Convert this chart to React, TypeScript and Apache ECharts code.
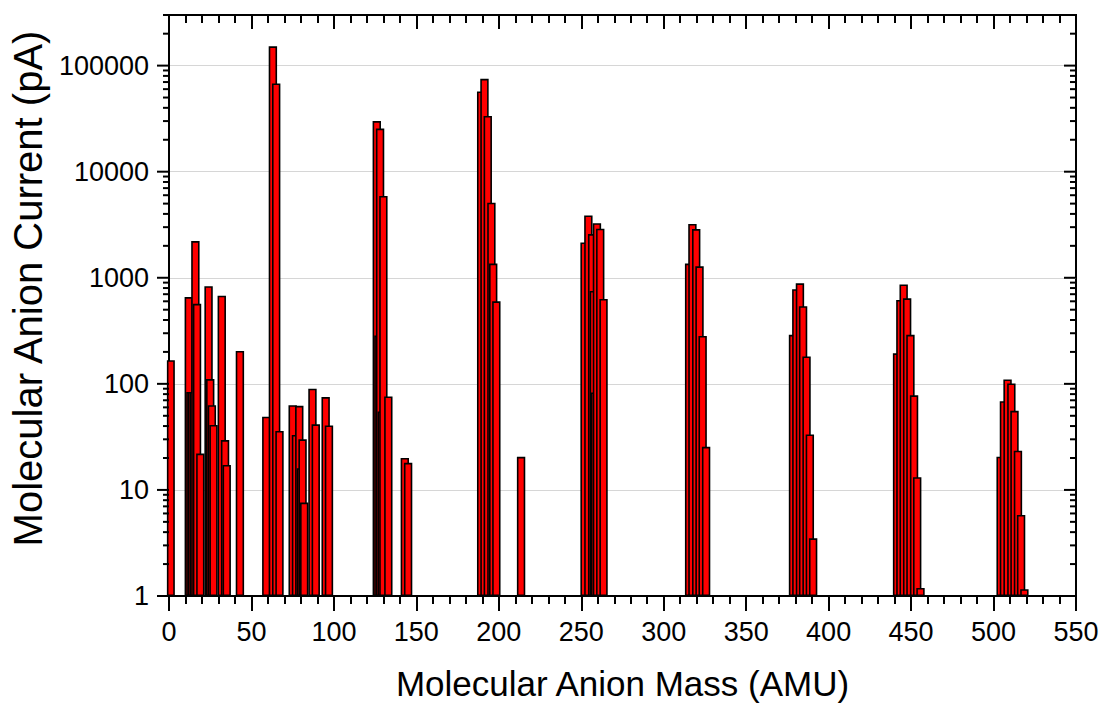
import React, { useEffect, useRef } from "react";
import * as echarts from "echarts";

// Molecular anion mass (AMU) of each bar, in drawing order
const masses = [
  1, 12, 13, 14, 15, 16, 17, 19, 24, 25, 26, 27, 32, 34, 35, 43,
  59, 63, 65, 67, 75, 77, 79, 80, 81, 82, 87, 89, 95, 97,
  126, 127, 128, 129, 130, 133, 143, 145,
  189.3, 191.3, 193.3, 195.5, 196.6, 198.5, 213.5,
  252, 254.3, 256.6, 257.6, 258.4, 259.5, 261.5, 263.5,
  315.4, 317.4, 319.7, 321.7, 323.6, 325.7,
  378.4, 380.4, 382.6, 384.5, 386.6, 388.6, 390.6,
  441.5, 443.5, 445.5, 447.6, 449.6, 451.8, 453.7, 455.7,
  504.3, 506.3, 508.5, 510.8, 512.7, 514.8, 516.7, 518.7,
];

// Molecular anion current (pA) of each bar
const currents = [
  167, 658, 84, 84, 84, 2220, 568, 22, 832, 111, 63, 41, 678, 29.5, 17.2, 204,
  49, 152000, 68000, 36, 63, 33, 62, 16, 30, 7.6, 90, 41.5, 75, 40.5,
  30000, 285, 25500, 55, 5900, 76, 20, 18,
  57000, 75000, 33500, 5100, 1360, 600, 20.5,
  2150, 3870, 2580, 750, 83, 3270, 2900, 632,
  1360, 3215, 2880, 1283, 283, 25.5,
  290, 780, 887, 539, 181, 33.3, 3.5,
  194, 618, 864, 640, 290, 78, 13.2, 1.19,
  20.6, 68.5, 110, 101, 55.7, 23.4, 5.8, 1.16,
];

const yDecades = [1, 10, 100, 1000, 10000, 100000];
const yMinorMultipliers = [2, 3, 4, 5, 6, 7, 8, 9];
const xTickStep = 50;

const FONT = "'Liberation Sans', Arial, Helvetica, sans-serif";

export default function App() {
  const ref = useRef<HTMLDivElement>(null);

  useEffect(() => {
    document.body.style.margin = "0";
    if (!ref.current) return;
    const chart = echarts.init(ref.current, null, { renderer: "svg" });

    const yTicks: number[][] = [];
    yDecades.forEach((d) => {
      yTicks.push([0, d, 1]);
      yMinorMultipliers.forEach((m) => {
        const v = d * m;
        if (v <= 300000) yTicks.push([0, v, 0]);
      });
    });

    const barData = masses.map((m, i) => [m, currents[i]]);

    const lineStyle = { color: "#000", width: 2 };

    chart.setOption({
      animation: false,
      backgroundColor: "#fff",
      grid: {
        left: 168,
        right: 28,
        top: 15,
        bottom: 117,
        show: true,
        borderColor: "#000",
        borderWidth: 2,
        backgroundColor: "transparent",
      },
      xAxis: [
        {
          type: "value",
          min: 0,
          max: 550,
          interval: xTickStep,
          position: "bottom",
          name: "Molecular Anion Mass (AMU)",
          nameLocation: "middle",
          nameGap: 70,
          nameTextStyle: { fontSize: 35, color: "#000", fontFamily: FONT },
          axisLine: { show: true, lineStyle },
          axisTick: { show: true, inside: false, length: 15, lineStyle },
          minorTick: { show: true, splitNumber: 5, length: 8, lineStyle },
          axisLabel: { fontSize: 27, color: "#000", margin: 22, fontFamily: FONT },
          splitLine: { show: false },
        },
        {
          type: "value",
          min: 0,
          max: 550,
          interval: xTickStep,
          position: "top",
          axisLine: { show: true, lineStyle },
          axisTick: { show: true, inside: true, length: 14, lineStyle },
          minorTick: { show: true, splitNumber: 5, length: 8, lineStyle },
          axisLabel: { show: false },
          splitLine: { show: false },
        },
      ],
      yAxis: [
        {
          type: "log",
          logBase: 10,
          min: 1,
          max: 300000,
          position: "left",
          name: "Molecular Anion Current (pA)",
          nameLocation: "middle",
          nameGap: 118,
          nameTextStyle: { fontSize: 40, color: "#000", fontFamily: FONT, padding: [0, 0, 0, 34] },
          axisLine: { show: true, lineStyle },
          axisTick: { show: false },
          axisLabel: {
            fontSize: 27,
            color: "#000",
            margin: 20,
            fontFamily: FONT,
            formatter: (v: number) => (yDecades.some((d) => Math.abs(d - v) < d * 1e-6) ? String(Math.round(v)) : ""),
          },
          splitLine: { show: true, lineStyle: { color: "#d6d6d6", width: 1.2 } },
        },
      ],
      series: [
        {
          type: "bar",
          xAxisIndex: 0,
          yAxisIndex: 0,
          data: barData,
          barWidth: 8.4,
          itemStyle: { color: "#ff0000", borderColor: "#000", borderWidth: 1.6 },
          emphasis: { disabled: true },
        },
        {
          type: "custom",
          xAxisIndex: 0,
          yAxisIndex: 0,
          silent: true,
          clip: false,
          z: 5,
          data: yTicks,
          encode: { x: 0, y: 1 },
          renderItem: (params: any, api: any) => {
            const v = api.value(1);
            const major = api.value(2) === 1;
            const pL = api.coord([0, v]);
            const pR = api.coord([550, v]);
            const len = major ? 12 : 6;
            const st = { stroke: "#000", lineWidth: 2 };
            return {
              type: "group",
              children: [
                { type: "line", shape: { x1: pL[0] - len, y1: pL[1], x2: pL[0], y2: pL[1] }, style: st },
                { type: "line", shape: { x1: pR[0] - len, y1: pR[1], x2: pR[0], y2: pR[1] }, style: st },
              ],
            };
          },
        },
      ],
    });

    return () => chart.dispose();
  }, []);

  return <div ref={ref} style={{ width: 1104, height: 713 }} />;
}
